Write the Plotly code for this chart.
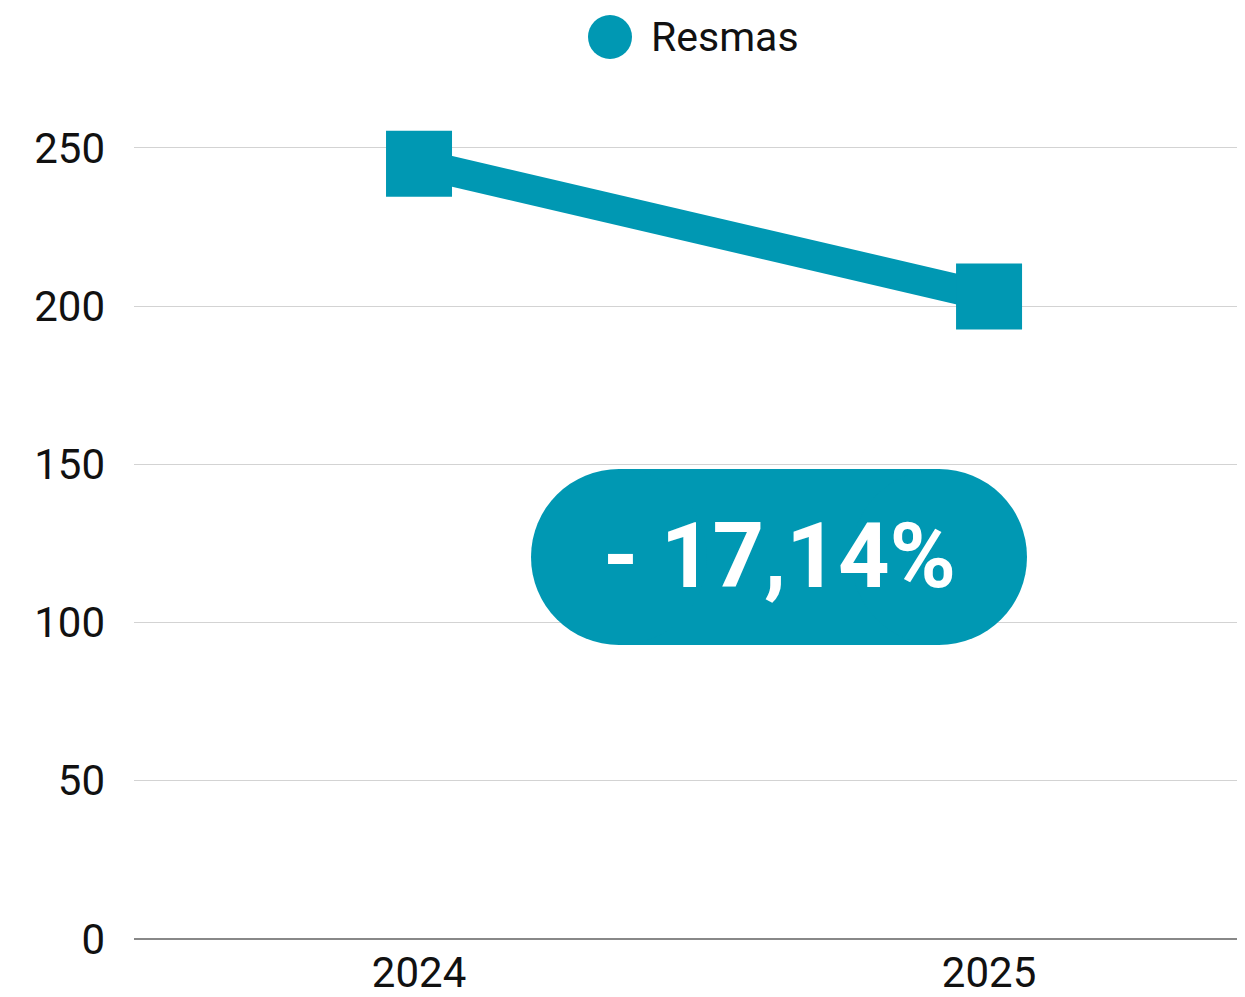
import plotly.graph_objects as go

years = ["2024", "2025"]
resmas = [245, 203]
series_name = "Resmas"
y_ticks = [0, 50, 100, 150, 200, 250]

TEAL = "#0098B3"

change = (resmas[1] - resmas[0]) / resmas[0] * 100
badge_text = "- " + f"{abs(change):.2f}".replace(".", ",") + "%"

fig = go.Figure()
fig.add_trace(go.Scatter(
    x=years, y=resmas, mode="lines+markers", name=series_name,
    line=dict(color=TEAL, width=30),
    marker=dict(symbol="square", size=66, color=TEAL),
    cliponaxis=False, showlegend=False,
))

shapes = []
# badge pill
for kind, x0, x1 in [("rect", 485, 805), ("circle", 397, 573), ("circle", 717, 893)]:
    shapes.append(dict(type=kind, xref="paper", yref="paper",
                       xsizemode="pixel", ysizemode="pixel",
                       xanchor=0, yanchor=0,
                       x0=x0, x1=x1, y0=294, y1=470,
                       fillcolor=TEAL, line=dict(width=0), layer="above"))
# legend marker
shapes.append(dict(type="circle", xref="paper", yref="paper",
                   xsizemode="pixel", ysizemode="pixel",
                   xanchor=0, yanchor=0,
                   x0=454, x1=498, y0=880, y1=924,
                   fillcolor=TEAL, line=dict(width=0)))

annotations = [
    dict(text=badge_text, xref="paper", yref="paper", x=0.5806, y=0.4734,
         xanchor="center", yanchor="middle", showarrow=False,
         font=dict(family="Roboto", size=90, color="white", weight="bold")),
    dict(text=series_name, xref="paper", yref="paper", x=0.4635, y=1.1177,
         xanchor="left", yanchor="middle", showarrow=False,
         font=dict(family="Roboto", size=41, color="#111111")),
]

fig.update_layout(
    width=1237, height=989,
    margin=dict(l=126, r=0, t=124, b=58, autoexpand=False),
    paper_bgcolor="white", plot_bgcolor="white",
    font=dict(family="Roboto", size=42, color="#111111"),
    shapes=shapes, annotations=annotations,
    showlegend=False,
    xaxis=dict(type="category", range=[-0.5, 1.449], showgrid=False,
               showline=False, zeroline=False, ticks="", automargin=False,
               tickfont=dict(size=42), ticklabelstandoff=5),
    yaxis=dict(range=[0, 255], tickvals=y_ticks, showgrid=True,
               gridcolor="#d3d3d3", gridwidth=1, automargin=False,
               zeroline=True, zerolinecolor="#888888", zerolinewidth=1.5,
               showline=False, ticks="", tickfont=dict(size=42),
               ticklabelstandoff=28),
)

fig.write_html("out.html")
